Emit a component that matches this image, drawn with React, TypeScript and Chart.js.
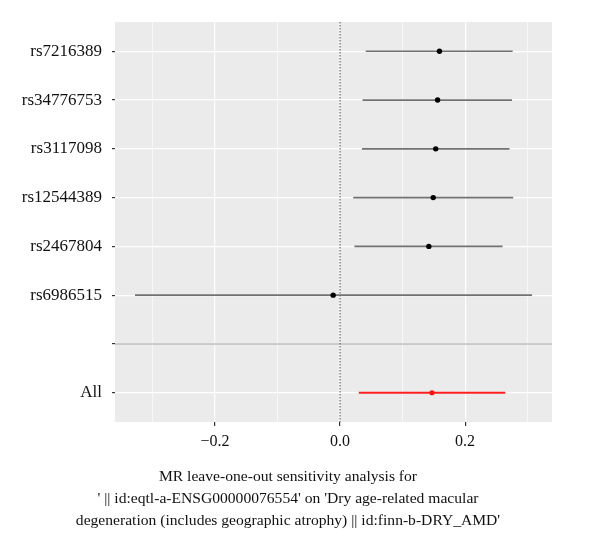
import React, { useEffect, useRef } from "react";
import { Chart, registerables } from "chart.js";
Chart.register(...registerables);

const snps = ["rs7216389", "rs34776753", "rs3117098", "rs12544389", "rs2467804", "rs6986515", "", "All"];
const estimates = [0.159, 0.156, 0.153, 0.149, 0.142, -0.011, null, 0.147];
const lower = [0.041, 0.036, 0.035, 0.021, 0.023, -0.328, null, 0.03];
const upper = [0.276, 0.275, 0.271, 0.277, 0.26, 0.307, null, 0.264];
const xMajorTicks = [-0.2, 0, 0.2];
const xMinorTicks = [-0.3, -0.1, 0.1, 0.3];
const xLimits = [-0.36, 0.339];
const yLimits = [-0.6, 7.6];
const separatorIndex = 6;
const titleLines = [
  "MR leave-one-out sensitivity analysis for",
  "' || id:eqtl-a-ENSG00000076554' on 'Dry age-related macular",
  "degeneration (includes geographic atrophy) || id:finn-b-DRY_AMD'",
];

const FONT = '"Liberation Serif", serif';
const isMajor = (v: number) => xMajorTicks.some((m) => Math.abs(m - v) < 1e-9);
const fmt = (v: number) => (Math.abs(v) < 1e-9 ? "0.0" : (v < 0 ? "\u2212" : "") + Math.abs(v).toFixed(1));

export default function App() {
  const ref = useRef<HTMLCanvasElement>(null);
  useEffect(() => {
    const canvas = ref.current!;
    const datasets: any[] = [];
    const allIdx = snps.indexOf("All");
    datasets.push({
      type: "scatter",
      data: snps.map((_, i) => (estimates[i] !== null && i !== allIdx ? { x: estimates[i], y: i } : null)).filter(Boolean),
      backgroundColor: "#000",
      borderColor: "#000",
      pointRadius: 2.7,
      borderWidth: 0,
    });
    datasets.push({
      type: "scatter",
      data: [{ x: estimates[allIdx], y: allIdx }],
      backgroundColor: "#ff1010",
      borderColor: "#ff1010",
      pointRadius: 2.6,
      borderWidth: 0,
    });
    snps.forEach((_, i) => {
      if (estimates[i] === null) return;
      datasets.push({
        type: "line",
        data: [
          { x: lower[i], y: i },
          { x: upper[i], y: i },
        ],
        borderColor: i === allIdx ? "#ff2020" : "#727272",
        borderWidth: i === allIdx ? 2 : 1.7,
        pointRadius: 0,
      });
    });
    datasets.push({
      type: "line",
      data: [
        { x: 0, y: yLimits[0] },
        { x: 0, y: yLimits[1] },
      ],
      borderColor: "#6a6a6a",
      borderWidth: 1.2,
      borderDash: [1.5, 1.5],
      pointRadius: 0,
    });
    datasets.push({
      type: "line",
      data: [
        { x: xLimits[0], y: separatorIndex },
        { x: xLimits[1], y: separatorIndex },
      ],
      borderColor: "#bdbdbd",
      borderWidth: 1.5,
      pointRadius: 0,
    });

    const chart = new Chart(canvas, {
      type: "scatter",
      data: { datasets },
      options: {
        animation: false,
        responsive: false,
        devicePixelRatio: 1,
        layout: { padding: { top: 22, right: 48, left: 0, bottom: 0 } },
        plugins: { legend: { display: false }, tooltip: { enabled: false } },
        scales: {
          x: {
            type: "linear",
            min: xLimits[0],
            max: xLimits[1],
            afterBuildTicks: (s: any) => {
              s.ticks = [...xMajorTicks, ...xMinorTicks].sort((a, b) => a - b).map((v) => ({ value: v }));
            },
            afterFit: (s: any) => {
              s.height = 123;
            },
            border: { display: false },
            grid: {
              color: "#ffffff",
              lineWidth: (c: any) => (isMajor(c.tick?.value) ? 1.2 : 0.6),
              tickColor: (c: any) => (isMajor(c.tick?.value) ? "#333333" : "rgba(0,0,0,0)"),
              tickLength: 4,
              drawTicks: true,
            },
            ticks: {
              autoSkip: false,
              maxRotation: 0,
              padding: 6,
              color: "#111",
              font: { family: FONT, size: 16 },
              callback: (v: any) => (isMajor(Number(v)) ? fmt(Number(v)) : ""),
            },
          },
          y: {
            type: "linear",
            min: yLimits[0],
            max: yLimits[1],
            reverse: true,
            afterBuildTicks: (s: any) => {
              s.ticks = snps.map((_, i) => ({ value: i }));
            },
            afterFit: (s: any) => {
              s.width = 115;
            },
            border: { display: false },
            grid: {
              color: "#ffffff",
              lineWidth: 1.2,
              tickColor: "#333333",
              tickLength: 3,
            },
            ticks: {
              autoSkip: false,
              padding: 10,
              color: "#111",
              font: { family: FONT, size: 17 },
              callback: (v: any) => snps[Number(v)] ?? "",
            },
          },
        },
      },
      plugins: [
        {
          id: "panelBg",
          beforeDraw: (c: any) => {
            const { ctx, chartArea: a } = c;
            ctx.save();
            ctx.fillStyle = "#ebebeb";
            ctx.fillRect(a.left, a.top, a.right - a.left, a.bottom - a.top);
            ctx.restore();
          },
        },
        {
          id: "xTitle",
          afterDraw: (c: any) => {
            const { ctx } = c;
            ctx.save();
            ctx.fillStyle = "#111";
            ctx.font = `15.6px ${FONT}`;
            ctx.textAlign = "center";
            ctx.textBaseline = "middle";
            const ys = [477, 499, 521];
            titleLines.forEach((t, i) => ctx.fillText(t, 288, ys[i]));
            ctx.restore();
          },
        },
      ],
    } as any);
    return () => chart.destroy();
  }, []);
  return (
    <div style={{ position: "absolute", left: 0, top: 0, width: 600, height: 545, background: "#fff" }}>
      <canvas ref={ref} width={600} height={545} style={{ display: "block" }} />
    </div>
  );
}
